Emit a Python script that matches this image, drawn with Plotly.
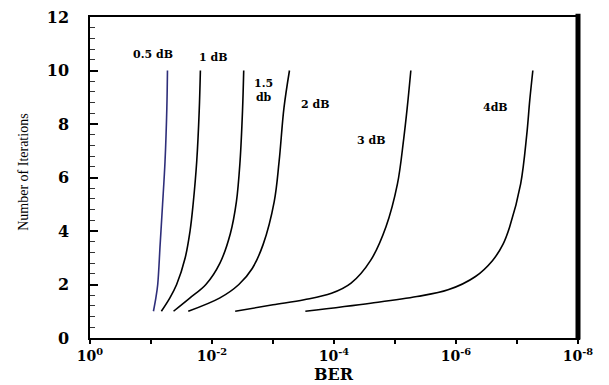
import numpy as np
import plotly.graph_objects as go

# ---- data ----
iter_05 = [1, 1.5, 2, 3.5, 5, 6.6, 8.6, 10]
ber_05 = [9.12e-2, 8.32e-2, 7.76e-2, 7.08e-2, 6.46e-2, 5.89e-2, 5.50e-2, 5.37e-2]

iter_10 = [1, 1.5, 2, 3, 4, 5, 6.6, 8.5, 10]
ber_10 = [6.76e-2, 4.90e-2, 3.80e-2, 2.75e-2, 2.29e-2, 2.04e-2, 1.78e-2, 1.62e-2, 1.55e-2]

iter_15 = [1, 1.5, 2, 2.8, 3.9, 5.1, 6.6, 8.5, 10]
ber_15 = [4.27e-2, 2.29e-2, 1.26e-2, 7.41e-3, 5.01e-3, 3.98e-3, 3.47e-3, 3.16e-3, 3.02e-3]

iter_20 = [1, 1.5, 2, 2.6, 3.5, 5.1, 6.6, 8.6, 10]
ber_20 = [2.45e-2, 7.41e-3, 3.63e-3, 2.19e-3, 1.45e-3, 9.55e-4, 7.94e-4, 6.61e-4, 5.37e-4]

iter_30 = [1, 1.24, 1.43, 1.67, 2.05, 2.9, 4.15, 5.76, 7.4, 8.6, 10]
ber_30 = [4.17e-3, 1.00e-3, 3.09e-4, 1.10e-4, 5.25e-5, 2.51e-5, 1.41e-5, 9.12e-6, 7.24e-6, 6.31e-6, 5.50e-6]

iter_40 = [1, 1.3, 1.55, 1.8, 2.3, 2.9, 3.5, 4.15, 5.76, 7.6, 8.9, 10]
ber_40 = [2.95e-4, 2.51e-5, 4.37e-6, 1.35e-6, 4.79e-7, 2.51e-7, 1.70e-7, 1.32e-7, 8.71e-8, 6.92e-8, 6.17e-8, 5.50e-8]

curve_labels = ["0.5 dB", "1 dB", "1.5<br>db", "2 dB", "3 dB", "4dB"]
label_ber = [9.3e-2, 9.5e-3, 1.41e-3, 2.04e-4, 2.45e-5, 2.29e-7]
label_iter = [10.6, 10.48, 9.25, 8.72, 7.37, 8.6]

x_tickvals = [1e0, 1e-2, 1e-4, 1e-6, 1e-8]
x_ticktext = ["10<sup>0</sup>", "10<sup>-2</sup>", "10<sup>-4</sup>",
              "10<sup>-6</sup>", "10<sup>-8</sup>"]
x_minorvals = [1e-1, 1e-3, 1e-5, 1e-7]
y_tickvals = [0, 2, 4, 6, 8, 10, 12]

series = [
    (iter_05, ber_05, "#2e2e7a"),
    (iter_10, ber_10, "black"),
    (iter_15, ber_15, "black"),
    (iter_20, ber_20, "black"),
    (iter_30, ber_30, "black"),
    (iter_40, ber_40, "black"),
]

fig = go.Figure()
for (it, ber, col), name in zip(series, curve_labels):
    fig.add_trace(go.Scatter(
        x=ber, y=it, mode="lines", name=name.replace("<br>", " "),
        line=dict(color=col, width=1.6, shape="spline", smoothing=1.0),
        showlegend=False, hoverinfo="skip",
    ))

serif_bold = dict(family="DejaVu Serif", color="black", weight="bold")

for txt, bx, iy in zip(curve_labels, label_ber, label_iter):
    fig.add_annotation(
        x=np.log10(bx), y=iy, xref="x", yref="y", text=txt, showarrow=False,
        font=dict(size=11, **serif_bold), xanchor="center", yanchor="middle",
        align="center",
    )

fig.add_annotation(
    x=0.5, y=-0.145, xref="paper", yref="paper", yanchor="bottom", xanchor="center",
    text="BER", showarrow=False, font=dict(size=16, **serif_bold),
    borderpad=0,
)
fig.add_annotation(
    x=-0.135, y=0.515, xref="paper", yref="paper", xanchor="center", yanchor="middle",
    text="Number of Iterations", textangle=-90, showarrow=False,
    font=dict(size=14, family="Liberation Serif", color="black"),
)

# thick right border
fig.add_shape(type="line", xref="paper", yref="paper", x0=1, x1=1, y0=-0.005, y1=1.01,
              line=dict(color="black", width=5))

fig.update_xaxes(
    type="log", range=[0, -8], tickvals=x_tickvals, ticktext=x_ticktext,
    ticks="outside", ticklen=4, tickwidth=1.5, tickcolor="black",
    minor=dict(tickvals=x_minorvals, ticks="outside", ticklen=4, tickwidth=1.5, tickcolor="black"),
    showline=True, linecolor="black", linewidth=1.5, mirror=True,
    showgrid=False, zeroline=False,
    tickfont=dict(size=14, **serif_bold),
)
fig.update_yaxes(
    range=[0, 12], tickvals=y_tickvals,
    ticks="inside", ticklen=8, tickwidth=1.5, tickcolor="black",
    minor=dict(dtick=0.4, tick0=0, ticks="inside", ticklen=5, tickwidth=1, tickcolor="#333"),
    showline=True, linecolor="black", linewidth=1.5, mirror=True,
    showgrid=False, zeroline=False, ticklabelstandoff=16,
    tickfont=dict(size=16, **serif_bold),
)

fig.update_layout(
    width=609, height=385,
    margin=dict(l=90, r=31, t=8, b=47),
    paper_bgcolor="white", plot_bgcolor="white",
    showlegend=False,
)

fig.write_html("out.html", config={"displayModeBar": False},
               post_script="document.body.style.margin='0';")
